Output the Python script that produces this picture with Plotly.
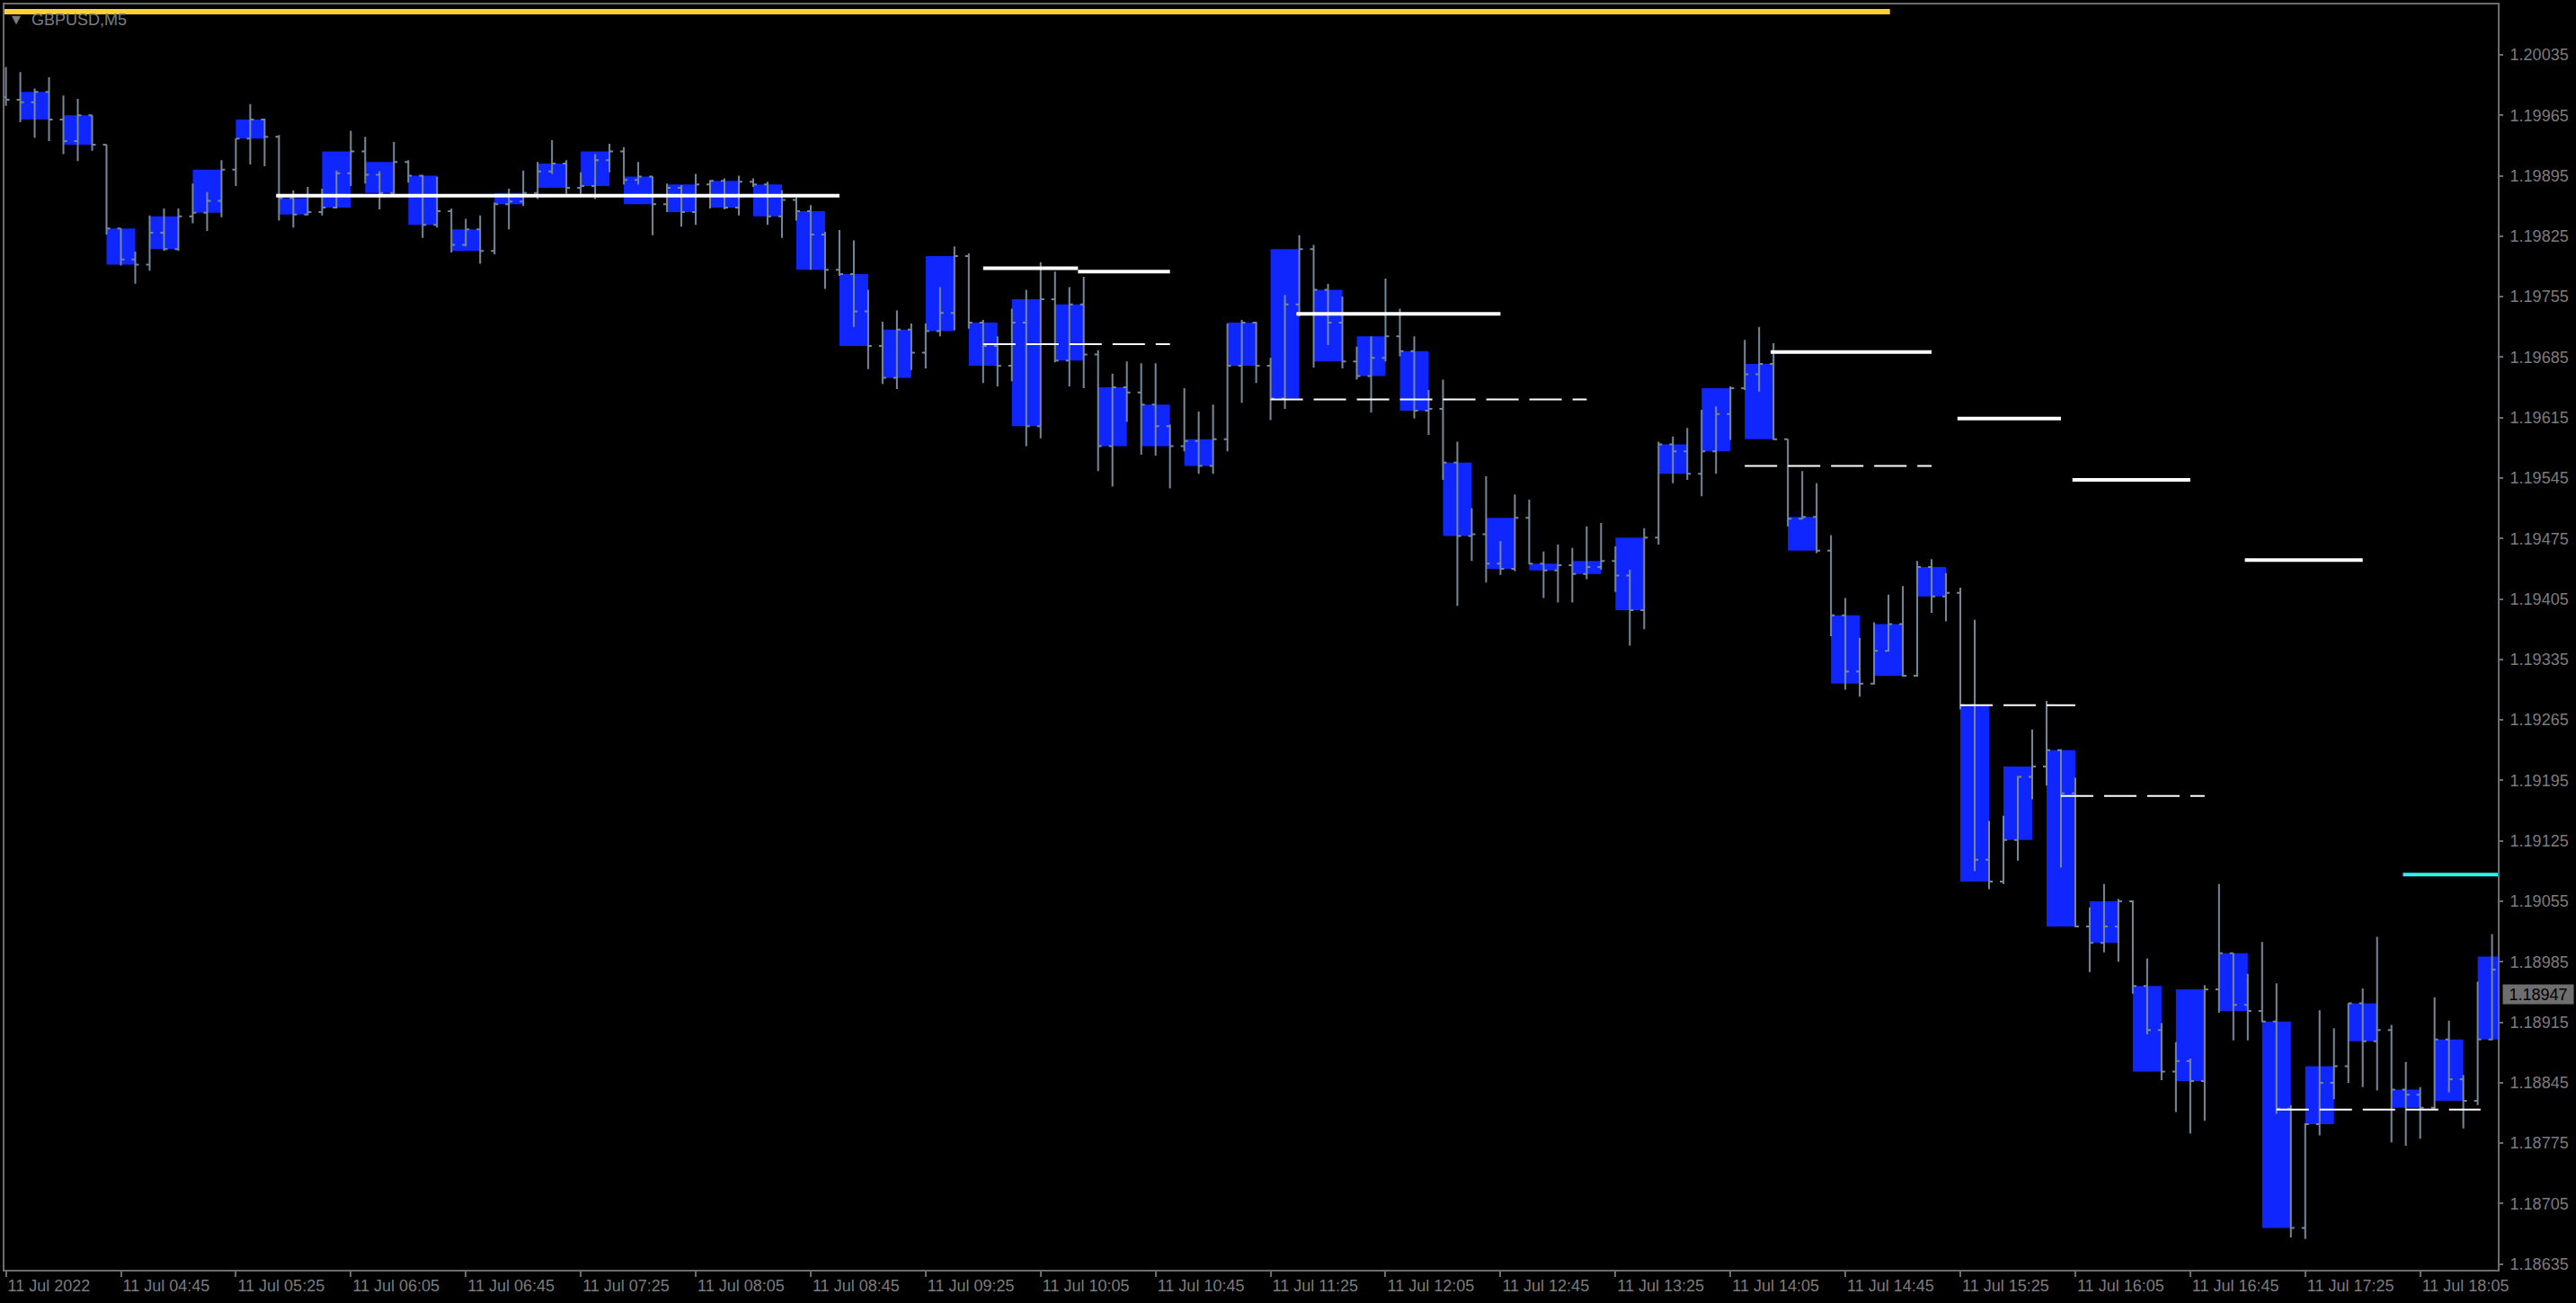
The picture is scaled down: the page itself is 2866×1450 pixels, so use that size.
import pandas as pd
import plotly.graph_objects as go

# GBPUSD M5, 11 Jul 2022 - first bar opens 04:05, the last one sits just past the right edge
bar_open = [
    1.19986, 1.19983, 1.19980, 1.19992, 1.19960, 1.19935, 1.19965, 1.19931, 1.19834, 1.19798,
    1.19792, 1.19829, 1.19810, 1.19848, 1.19852, 1.19866, 1.19902, 1.19938, 1.19960, 1.19940,
    1.19869, 1.19850, 1.19853, 1.19858, 1.19898, 1.19923, 1.19896, 1.19875, 1.19911, 1.19895,
    1.19838, 1.19854, 1.19815, 1.19833, 1.19808, 1.19862, 1.19865, 1.19875, 1.19900, 1.19909,
    1.19881, 1.19883, 1.19913, 1.19923, 1.19890, 1.19894, 1.19862, 1.19881, 1.19853, 1.19885,
    1.19889, 1.19858, 1.19888, 1.19885, 1.19848, 1.19867, 1.19854, 1.19827, 1.19786, 1.19781,
    1.19738, 1.19698, 1.19661, 1.19717, 1.19690, 1.19715, 1.19736, 1.19802, 1.19725, 1.19698,
    1.19675, 1.19725, 1.19605, 1.19752, 1.19681, 1.19746, 1.19688, 1.19582, 1.19650, 1.19644,
    1.19630, 1.19605, 1.19582, 1.19588, 1.19559, 1.19590, 1.19675, 1.19725, 1.19675, 1.19637,
    1.19746, 1.19810, 1.19763, 1.19725, 1.19680, 1.19663, 1.19684, 1.19709, 1.19692, 1.19623,
    1.19625, 1.19563, 1.19478, 1.19480, 1.19446, 1.19440, 1.19499, 1.19446, 1.19438, 1.19444,
    1.19434, 1.19442, 1.19449, 1.19432, 1.19392, 1.19476, 1.19584, 1.19576, 1.19550, 1.19576,
    1.19619, 1.19649, 1.19665, 1.19677, 1.19590, 1.19498, 1.19500, 1.19461, 1.19386, 1.19321,
    1.19307, 1.19345, 1.19376, 1.19316, 1.19442, 1.19408, 1.19412, 1.19282, 1.19103, 1.19078,
    1.19126, 1.19199, 1.19211, 1.19230, 1.19180, 1.19026, 1.19007, 1.19026, 1.19055, 1.18957,
    1.18906, 1.18858, 1.18870, 1.18847, 1.18953, 1.18995, 1.18935, 1.18928, 1.18916, 1.18815,
    1.18677, 1.18797, 1.18845, 1.18864, 1.18937, 1.18893, 1.18906, 1.18837, 1.18831, 1.18816,
    1.18895, 1.18849, 1.18824, 1.18895, 1.18976,
]
bar_high = [
    1.20021, 1.20015, 1.19996, 1.20009, 1.19988, 1.19984, 1.19965, 1.19931, 1.19834, 1.19807,
    1.19849, 1.19857, 1.19857, 1.19886, 1.19876, 1.19913, 1.19938, 1.19978, 1.19961, 1.19942,
    1.19878, 1.19882, 1.19880, 1.19901, 1.19947, 1.19940, 1.19900, 1.19934, 1.19913, 1.19896,
    1.19894, 1.19857, 1.19845, 1.19849, 1.19864, 1.19880, 1.19901, 1.19911, 1.19936, 1.19913,
    1.19899, 1.19920, 1.19932, 1.19928, 1.19911, 1.19894, 1.19886, 1.19884, 1.19897, 1.19890,
    1.19892, 1.19895, 1.19892, 1.19888, 1.19878, 1.19870, 1.19861, 1.19830, 1.19832, 1.19820,
    1.19763, 1.19726, 1.19739, 1.19724, 1.19724, 1.19766, 1.19813, 1.19805, 1.19728, 1.19709,
    1.19741, 1.19763, 1.19795, 1.19784, 1.19766, 1.19778, 1.19693, 1.19666, 1.19680, 1.19678,
    1.19678, 1.19607, 1.19649, 1.19622, 1.19630, 1.19724, 1.19728, 1.19726, 1.19684, 1.19757,
    1.19826, 1.19815, 1.19770, 1.19755, 1.19697, 1.19709, 1.19776, 1.19741, 1.19709, 1.19647,
    1.19659, 1.19587, 1.19510, 1.19547, 1.19472, 1.19526, 1.19520, 1.19460, 1.19468, 1.19464,
    1.19489, 1.19493, 1.19466, 1.19439, 1.19487, 1.19587, 1.19593, 1.19603, 1.19624, 1.19628,
    1.19651, 1.19705, 1.19720, 1.19701, 1.19590, 1.19553, 1.19539, 1.19479, 1.19406, 1.19360,
    1.19378, 1.19410, 1.19420, 1.19449, 1.19451, 1.19435, 1.19418, 1.19381, 1.19148, 1.19154,
    1.19200, 1.19254, 1.19287, 1.19231, 1.19198, 1.19048, 1.19075, 1.19058, 1.19056, 1.18989,
    1.18914, 1.18892, 1.18873, 1.18958, 1.19075, 1.18995, 1.18971, 1.19008, 1.18960, 1.18819,
    1.18798, 1.18929, 1.18908, 1.18937, 1.18954, 1.19014, 1.18912, 1.18869, 1.18840, 1.18944,
    1.18917, 1.18854, 1.18962, 1.19017, 1.18995,
]
bar_low = [
    1.19976, 1.19957, 1.19939, 1.19935, 1.19920, 1.19912, 1.19924, 1.19827, 1.19791, 1.19770,
    1.19785, 1.19808, 1.19808, 1.19840, 1.19831, 1.19847, 1.19883, 1.19908, 1.19906, 1.19843,
    1.19835, 1.19849, 1.19849, 1.19857, 1.19883, 1.19886, 1.19856, 1.19874, 1.19887, 1.19823,
    1.19835, 1.19806, 1.19813, 1.19793, 1.19804, 1.19833, 1.19860, 1.19868, 1.19897, 1.19874,
    1.19874, 1.19868, 1.19899, 1.19885, 1.19885, 1.19826, 1.19853, 1.19836, 1.19838, 1.19857,
    1.19856, 1.19849, 1.19882, 1.19838, 1.19823, 1.19843, 1.19786, 1.19764, 1.19779, 1.19720,
    1.19671, 1.19654, 1.19648, 1.19670, 1.19672, 1.19709, 1.19716, 1.19718, 1.19655, 1.19651,
    1.19657, 1.19582, 1.19591, 1.19679, 1.19651, 1.19649, 1.19553, 1.19535, 1.19610, 1.19572,
    1.19571, 1.19533, 1.19576, 1.19550, 1.19550, 1.19576, 1.19632, 1.19655, 1.19612, 1.19625,
    1.19732, 1.19673, 1.19699, 1.19672, 1.19659, 1.19621, 1.19680, 1.19686, 1.19614, 1.19595,
    1.19543, 1.19397, 1.19449, 1.19424, 1.19433, 1.19437, 1.19445, 1.19406, 1.19401, 1.19401,
    1.19428, 1.19439, 1.19413, 1.19351, 1.19370, 1.19468, 1.19539, 1.19543, 1.19524, 1.19550,
    1.19589, 1.19647, 1.19645, 1.19589, 1.19489, 1.19497, 1.19458, 1.19362, 1.19300, 1.19292,
    1.19306, 1.19344, 1.19315, 1.19315, 1.19389, 1.19379, 1.19277, 1.19090, 1.19069, 1.19075,
    1.19102, 1.19173, 1.19189, 1.19094, 1.19025, 1.18973, 1.18996, 1.18985, 1.18948, 1.18901,
    1.18848, 1.18811, 1.18786, 1.18801, 1.18926, 1.18894, 1.18894, 1.18915, 1.18809, 1.18666,
    1.18664, 1.18784, 1.18826, 1.18845, 1.18840, 1.18836, 1.18776, 1.18772, 1.18780, 1.18814,
    1.18834, 1.18792, 1.18819, 1.18894, 1.18940,
]
bar_close = [
    1.19983, 1.19980, 1.19992, 1.19960, 1.19935, 1.19965, 1.19931, 1.19834, 1.19798, 1.19792,
    1.19829, 1.19810, 1.19848, 1.19852, 1.19866, 1.19902, 1.19938, 1.19960, 1.19940, 1.19869,
    1.19850, 1.19853, 1.19858, 1.19898, 1.19923, 1.19896, 1.19875, 1.19911, 1.19895, 1.19838,
    1.19854, 1.19815, 1.19833, 1.19808, 1.19862, 1.19865, 1.19875, 1.19900, 1.19909, 1.19881,
    1.19883, 1.19913, 1.19923, 1.19890, 1.19894, 1.19862, 1.19881, 1.19853, 1.19885, 1.19889,
    1.19858, 1.19888, 1.19885, 1.19848, 1.19867, 1.19854, 1.19827, 1.19786, 1.19781, 1.19738,
    1.19698, 1.19661, 1.19717, 1.19690, 1.19715, 1.19736, 1.19802, 1.19725, 1.19698, 1.19675,
    1.19725, 1.19605, 1.19752, 1.19681, 1.19746, 1.19688, 1.19582, 1.19650, 1.19644, 1.19630,
    1.19605, 1.19582, 1.19588, 1.19559, 1.19590, 1.19675, 1.19725, 1.19675, 1.19637, 1.19746,
    1.19810, 1.19763, 1.19725, 1.19680, 1.19663, 1.19684, 1.19709, 1.19692, 1.19623, 1.19625,
    1.19563, 1.19478, 1.19480, 1.19446, 1.19440, 1.19499, 1.19446, 1.19438, 1.19444, 1.19434,
    1.19442, 1.19449, 1.19432, 1.19392, 1.19476, 1.19584, 1.19576, 1.19550, 1.19576, 1.19619,
    1.19649, 1.19665, 1.19677, 1.19590, 1.19498, 1.19500, 1.19461, 1.19386, 1.19321, 1.19307,
    1.19345, 1.19376, 1.19316, 1.19442, 1.19408, 1.19412, 1.19282, 1.19103, 1.19078, 1.19126,
    1.19199, 1.19211, 1.19230, 1.19180, 1.19026, 1.19007, 1.19026, 1.19055, 1.18957, 1.18906,
    1.18858, 1.18870, 1.18847, 1.18953, 1.18995, 1.18935, 1.18928, 1.18916, 1.18815, 1.18677,
    1.18797, 1.18845, 1.18864, 1.18937, 1.18893, 1.18906, 1.18837, 1.18831, 1.18816, 1.18895,
    1.18849, 1.18824, 1.18895, 1.18976, 1.18991,
]
bar_time = pd.date_range("2022-07-11 04:05", periods=len(bar_close), freq="5min")

# horizontal levels drawn on the chart (start, end, price)
solid_start = ["05:39", "09:45", "10:18", "11:34", "14:19", "15:24", "16:04", "17:04"]
solid_end = ["08:55", "10:18", "10:50", "12:45", "15:15", "16:00", "16:45", "17:45"]
solid_price = [1.19872, 1.19788, 1.19784, 1.19735, 1.19691, 1.19614, 1.19543, 1.19450]

dash_start = ["09:45", "11:25", "14:10", "15:25", "16:00", "17:15"]
dash_end = ["10:50", "13:15", "15:15", "16:05", "16:50", "18:26"]
dash_price = [1.19700, 1.19636, 1.19559, 1.19282, 1.19177, 1.18814]

gold_level = 1.20085
gold_span = ["04:00", "15:00:30"]
cyan_level = 1.19086
cyan_span = ["17:59", "18:45"]
last_price = 1.18947

y_ticks = [1.18635, 1.18705, 1.18775, 1.18845, 1.18915, 1.18985, 1.19055,
           1.19125, 1.19195, 1.19265, 1.19335, 1.19405, 1.19475, 1.19545,
           1.19615, 1.19685, 1.19755, 1.19825, 1.19895, 1.19965, 1.20035]
x_tick_text = ["11 Jul 2022", "11 Jul 04:45", "11 Jul 05:25", "11 Jul 06:05",
               "11 Jul 06:45", "11 Jul 07:25", "11 Jul 08:05", "11 Jul 08:45",
               "11 Jul 09:25", "11 Jul 10:05", "11 Jul 10:45", "11 Jul 11:25",
               "11 Jul 12:05", "11 Jul 12:45", "11 Jul 13:25", "11 Jul 14:05",
               "11 Jul 14:45", "11 Jul 15:25", "11 Jul 16:05", "11 Jul 16:45",
               "11 Jul 17:25", "11 Jul 18:05"]

DAY = "2022-07-11 "
FG = "#6c6c6c"
TXT = "#7c7c7c"
FONT = "Liberation Sans"

fig = go.Figure()

# blue boxes: close range of each group of three bars
groups = list(range(1, len(bar_close) - 2, 3))
box_lo = [min(bar_close[g:g + 3]) for g in groups]
box_hi = [max(bar_close[g:g + 3]) for g in groups]
fig.add_trace(go.Bar(
    x=[bar_time[g + 1] for g in groups],
    y=[h - l for h, l in zip(box_hi, box_lo)],
    base=box_lo, width=10 * 60 * 1000,
    marker=dict(color="#0f26ff", line=dict(width=0)),
))

fig.add_trace(go.Ohlc(
    x=bar_time, open=bar_open, high=bar_high, low=bar_low, close=bar_close,
    increasing_line_color="#778899", decreasing_line_color="#778899",
    line_width=2, tickwidth=0.25,
))

for t0, t1, p in zip(solid_start, solid_end, solid_price):
    fig.add_trace(go.Scatter(x=[DAY + t0, DAY + t1], y=[p, p], mode="lines",
                             line=dict(color="white", width=4)))
for t0, t1, p in zip(dash_start, dash_end, dash_price):
    fig.add_trace(go.Scatter(x=[DAY + t0, DAY + t1], y=[p, p], mode="lines",
                             line=dict(color="white", width=2, dash="36px,12px")))

fig.add_trace(go.Scatter(x=[DAY + t for t in gold_span], y=[gold_level] * 2,
                         mode="lines", line=dict(color="#ffd232", width=6)))
fig.add_trace(go.Scatter(x=[DAY + t for t in cyan_span], y=[cyan_level] * 2,
                         mode="lines", line=dict(color="#30f0f0", width=4)))

fig.add_annotation(text="▼", xref="paper", yref="paper", x=0, y=1,
                   xanchor="left", yanchor="top", xshift=6, yshift=-7,
                   showarrow=False, font=dict(family="DejaVu Sans", size=13, color=TXT))
fig.add_annotation(text="GBPUSD,M5", xref="paper", yref="paper", x=0, y=1,
                   xanchor="left", yanchor="top", xshift=28, yshift=-5,
                   showarrow=False, font=dict(family=FONT, size=18, color=TXT))
fig.add_annotation(text=f"{last_price:.5f}", xref="paper", yref="y", x=1, y=last_price,
                   xanchor="left", yanchor="middle", xshift=5, showarrow=False,
                   width=76, height=19, borderpad=1, bgcolor="#6e6e6e",
                   font=dict(family=FONT, size=18, color="black"))

fig.update_layout(
    width=2866, height=1450,
    margin=dict(l=3, r=87, t=5, b=37),
    paper_bgcolor="black", plot_bgcolor="black",
    showlegend=False, hovermode=False, barmode="overlay",
    xaxis=dict(
        type="date", range=[DAY + "04:04:30", DAY + "18:32:00"],
        rangeslider=dict(visible=False),
        showgrid=False, zeroline=False,
        showline=True, linecolor=FG, linewidth=2, mirror=True,
        ticks="outside", ticklen=6, tickwidth=2, tickcolor=FG,
        tickvals=list(bar_time[::8]), ticktext=x_tick_text,
        ticklabelposition="outside right",
        tickfont=dict(family=FONT, size=18, color=TXT),
    ),
    yaxis=dict(
        side="right", range=[1.186285, 1.200932],
        showgrid=False, zeroline=False,
        showline=True, linecolor=FG, linewidth=2, mirror=True,
        ticks="outside", ticklen=4, tickwidth=2, tickcolor=FG,
        tickvals=y_ticks, ticktext=[f"{v:.5f}" for v in y_ticks],
        ticklabelstandoff=4,
        tickfont=dict(family=FONT, size=18, color=TXT),
    ),
)

# the page's default body margin would push the figure 8px right/down
fig.write_html("out.html", config={"displayModeBar": False},
               post_script="document.body.style.margin='0';")
